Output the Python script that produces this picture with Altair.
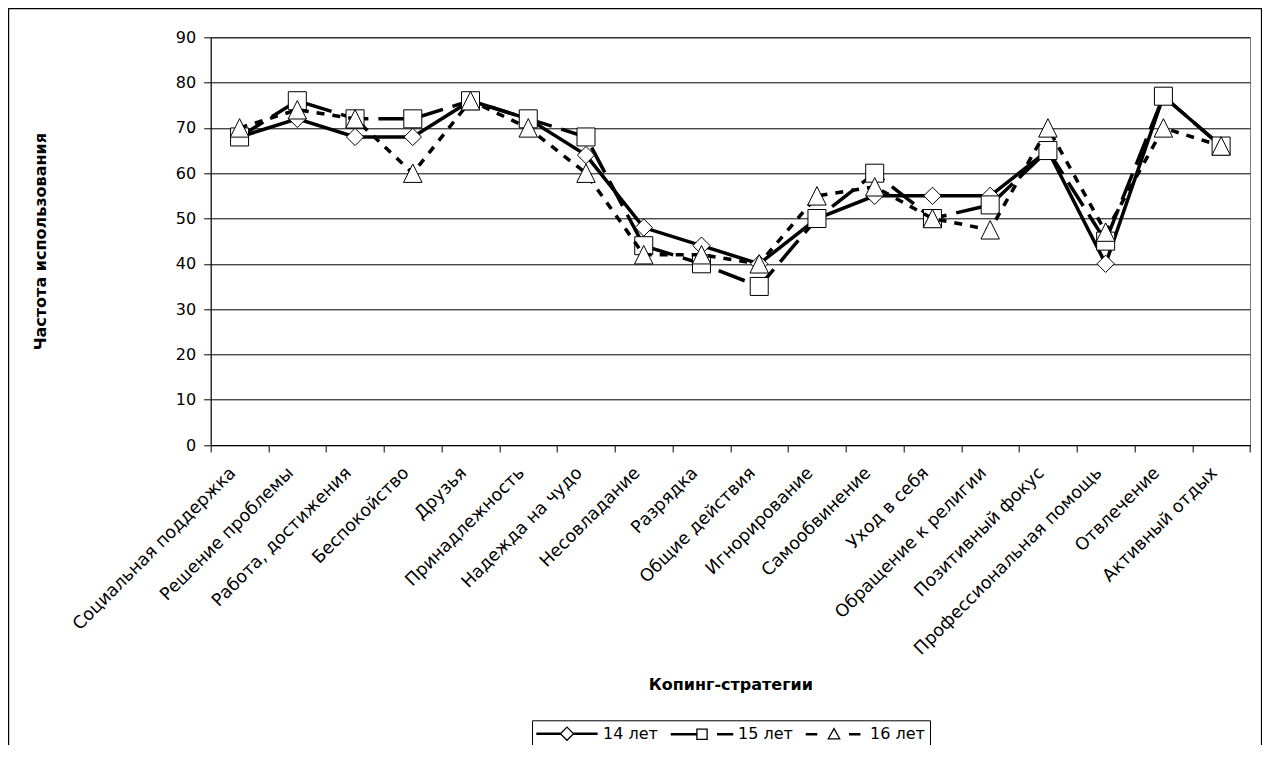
import altair as alt
import pandas as pd

categories = [
    "Социальная поддержка", "Решение проблемы", "Работа, достижения", "Беспокойство",
    "Друзья", "Принадлежность", "Надежда на чудо", "Несовладание", "Разрядка",
    "Общие действия", "Игнорирование", "Самообвинение", "Уход в себя",
    "Обращение к религии", "Позитивный фокус", "Профессиональная помощь",
    "Отвлечение", "Активный отдых",
]
series_names = ["14 лет", "15 лет", "16 лет"]
values_14 = [68, 72, 68, 68, 76, 72, 64, 48, 44, 40, 50, 55, 55, 55, 65, 40, 77, 66]
values_15 = [68, 76, 72, 72, 76, 72, 68, 44, 40, 35, 50, 60, 50, 53, 65, 45, 77, 66]
values_16 = [70, 74, 72, 60, 76, 70, 60, 42, 42, 40, 55, 57, 50, 47.5, 70, 47, 70, 66]
y_ticks = [0, 10, 20, 30, 40, 50, 60, 70, 80, 90]

rows = []
for name, vals in zip(series_names, [values_14, values_15, values_16]):
    for c, v in zip(categories, vals):
        rows.append({"cat": c, "series": name, "value": v})
df = pd.DataFrame(rows)

FONT = "DejaVu Sans"
PLOT_W = 1039.3
PLOT_H = 407.7

x_enc = alt.X(
    "cat:N", sort=categories, bandPosition=0.5,
    scale=alt.Scale(type="band", paddingInner=0, paddingOuter=0),
    title="Копинг-стратегии",
    axis=alt.Axis(
        labelAngle=-45, labelAlign="right", labelBaseline="middle",
        labelPadding=18, labelOffset=-7, labelLimit=400, labelOverlap=False,
        labelBound=False, labelFontSize=17.5,
        tickBand="extent", tickSize=7, grid=False,
        titleY=231, titleBaseline="top",
    ),
)
y_enc = alt.Y(
    "value:Q",
    scale=alt.Scale(domain=[0, 90], nice=False, zero=True),
    title="Частота использования",
    axis=alt.Axis(
        values=y_ticks, tickSize=7, labelPadding=8, grid=True,
        titleX=-170, titleY=PLOT_H / 2, titleBaseline="middle", titleAngle=270,
    ),
)

base = alt.Chart(df)

frame = alt.Chart(pd.DataFrame({"a": [0]})).mark_rect(
    filled=False, stroke="black", strokeWidth=1.2
).encode(
    x=alt.value(-202.1), x2=alt.value(1050.8),
    y=alt.value(-28.7), y2=alt.value(900),
)

tri_path = "M0,-1 L1,1 L-1,1 Z"
styles = {
    "14 лет": dict(dash=None, shape="diamond", size=300),
    "15 лет": dict(dash=[28, 10], shape="square", size=324),
    "16 лет": dict(dash=[8, 8], shape=tri_path, size=340),
}

layers = [frame]
for name in series_names:
    st = styles[name]
    sub = base.transform_filter(alt.datum.series == name)
    line_kw = dict(color="black", strokeWidth=3.5)
    if st["dash"] is not None:
        line_kw["strokeDash"] = st["dash"]
    layers.append(sub.mark_line(**line_kw).encode(x=x_enc, y=y_enc))
    layers.append(
        sub.mark_point(
            shape=st["shape"], size=st["size"], filled=True, fill="white",
            stroke="black", strokeWidth=1, opacity=1,
        ).encode(x=x_enc, y=y_enc)
    )

legend_paths = [
    "M-5,-0.11 L-1.1,-0.11 L-1.1,0.11 L-5,0.11 Z M1.1,-0.11 L5,-0.11 L5,0.11 L1.1,0.11 Z "
    "M0,-1.1 L1.1,0 L0,1.1 L-1.1,0 Z",
    "M-5.1,-0.11 L-0.85,-0.11 L-0.85,0.11 L-5.1,0.11 Z M2.6,-0.11 L5.1,-0.11 L5.1,0.11 L2.6,0.11 Z "
    "M-0.85,-0.85 L0.85,-0.85 L0.85,0.85 L-0.85,0.85 Z",
    "M-4.6,-0.11 L-2.9,-0.11 L-2.9,0.11 L-4.6,0.11 Z M2.6,-0.11 L4.3,-0.11 L4.3,0.11 L2.6,0.11 Z "
    "M0,-0.95 L0.95,0.75 L-0.95,0.75 Z",
]

legend_layer = base.transform_filter("datum.value < 0").mark_point(
    filled=False, color="black", strokeWidth=1.3, opacity=1
).encode(
    x=x_enc, y=y_enc,
    shape=alt.Shape(
        "series:N",
        scale=alt.Scale(domain=series_names, range=legend_paths),
        legend=alt.Legend(
            title=None, orient="none", legendX=321.3, legendY=683,
            direction="horizontal", strokeColor="black", fillColor="white",
            padding=5, symbolSize=144, symbolStrokeWidth=1.3,
            symbolStrokeColor="black", symbolOpacity=1,
            symbolOffset=22, labelOffset=28, columnPadding=10,
            labelFont=FONT, labelFontSize=16, labelColor="black",
        ),
    ),
)
layers.append(legend_layer)

chart = alt.layer(*layers).properties(
    width=PLOT_W, height=PLOT_H,
    autosize=alt.AutoSizeParams(type="none"),
    padding={"left": 202.7, "top": 29.3, "right": 12, "bottom": 300},
    background="white",
).configure_view(
    stroke="#808080", strokeWidth=1
).configure_axis(
    domainColor="black", tickColor="black", gridColor="black", gridWidth=1,
    domainWidth=1, tickWidth=1,
    labelFont=FONT, labelFontSize=16, labelColor="black",
    titleFont=FONT, titleFontSize=16, titleFontWeight="bold", titleColor="black",
)

chart.save("out.html", embed_options={"renderer": "svg", "actions": False})
